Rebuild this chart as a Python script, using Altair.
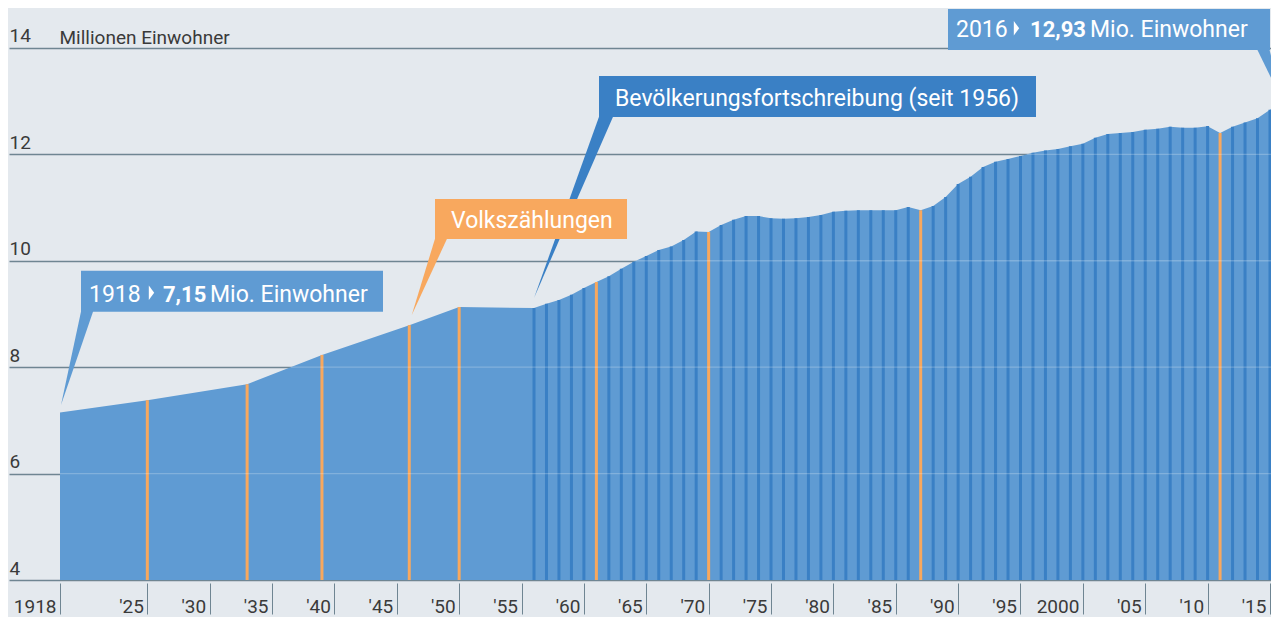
import json
import altair as alt
import pandas as pd

# ---------------- data (Mio. Einwohner) ----------------
early_years = [1918, 1925, 1933, 1939, 1946, 1950]
early_values = [7.15, 7.38, 7.68, 8.23, 8.79, 9.13]

annual_years = [
    1956, 1957, 1958, 1959, 1960, 1961, 1962, 1963, 1964, 1965,
    1966, 1967, 1968, 1969, 1970, 1971, 1972, 1973, 1974, 1975,
    1976, 1977, 1978, 1979, 1980, 1981, 1982, 1983, 1984, 1985,
    1986, 1987, 1988, 1989, 1990, 1991, 1992, 1993, 1994, 1995,
    1996, 1997, 1998, 1999, 2000, 2001, 2002, 2003, 2004, 2005,
    2006, 2007, 2008, 2009, 2010, 2011, 2012, 2013, 2014, 2015,
    2016,
]
annual_values = [
    9.11, 9.19, 9.26, 9.36, 9.49, 9.60, 9.71, 9.85, 9.98, 10.09,
    10.20, 10.27, 10.39, 10.55, 10.54, 10.67, 10.77, 10.84, 10.84, 10.80,
    10.79, 10.80, 10.82, 10.86, 10.92, 10.94, 10.95, 10.95, 10.95, 10.95,
    11.01, 10.95, 11.03, 11.20, 11.44, 11.58, 11.76, 11.86, 11.91, 11.97,
    12.03, 12.07, 12.10, 12.15, 12.20, 12.31, 12.38, 12.40, 12.42, 12.46,
    12.48, 12.52, 12.50, 12.50, 12.53, 12.40, 12.52, 12.60, 12.68, 12.84,
    12.93,
]
census_years = [1925, 1933, 1939, 1946, 1950, 1961, 1970, 1987, 2011]

tick_years = [1918, 1925, 1930, 1935, 1940, 1945, 1950, 1955, 1960, 1965,
              1970, 1975, 1980, 1985, 1990, 1995, 2000, 2005, 2010, 2015]
tick_labels = ["1918", "'25", "'30", "'35", "'40", "'45", "'50", "'55", "'60", "'65",
               "'70", "'75", "'80", "'85", "'90", "'95", "2000", "'05", "'10", "'15"]
y_ticks = [4, 6, 8, 10, 12, 14]

# ---------------- annotation layout (data units) ----------------
box_x = [1919.684, 1948.063, 1961.210, 1989.188]
box_x2 = [1943.894, 1963.455, 1996.243, 2015.002]
box_y = [9.04, 10.41, 12.70, 13.96]
box_y2 = [9.81, 11.16, 13.47, 14.73]
box_kind = ["light", "orange", "dark", "light"]

wedge_id = ["a", "a", "b", "b", "c", "c", "d", "d"]
wedge_v = [7.29, 9.08, 8.98, 10.47, 9.30, 12.76, 13.00, 14.02]
wedge_l = [1918.08, 1919.716, 1946.2, 1948.135, 1956.0, 1961.29, 2016.0, 2013.87]
wedge_r = [1918.08, 1920.702, 1946.2, 1949.137, 1956.0, 1962.43, 2016.0, 2014.90]
wedge_kind = ["light", "light", "orange", "orange", "dark", "dark", "light", "light"]

fmt = lambda v: f"{v:.2f}".replace(".", ",")
txt_normal = [str(early_years[0]), "Mio. Einwohner", "Volkszählungen",
              "Bevölkerungsfortschreibung (seit 1956)", str(annual_years[-1]), "Mio. Einwohner"]
txt_normal_x = [1920.325, 1930.025, 1949.345, 1962.493, 1989.829, 2000.572]
txt_normal_y = [9.226, 9.226, 10.62, 12.91, 14.21, 14.21]
txt_bold = [fmt(early_values[0]), fmt(annual_values[-1])]
txt_bold_x = [1926.257, 1995.762]
txt_bold_y = [9.226, 14.21]
tri_x = [1925.335, 1994.679]
tri_y = [9.40, 14.37]

# ---------------- styling ----------------
BG = "#e4e9ee"
AREA = "#5f9bd3"
DARK = "#3a80c5"
ORANGE = "#f8a85e"
GRID = "#6f8592"
TEXT = "#3a3a3a"
SANS = "Roboto"
kind_colors = {"light": AREA, "orange": ORANGE, "dark": DARK}

PX_PER_YEAR = 12.474
W = 1262
H = 572
x_min = 1918 - 51 / PX_PER_YEAR
x_max = x_min + W / PX_PER_YEAR
y_min, y_max = 4, 14.75

# ---------------- tables ----------------
years_all = early_years + annual_years
vals_all = early_values + annual_values
df_area = pd.DataFrame({"year": years_all, "value": vals_all})
all_vals = dict(zip(years_all, vals_all))
df_dark = pd.DataFrame({"year": [y for y in annual_years if y not in census_years],
                        "value": [all_vals[y] for y in annual_years if y not in census_years]})
df_orange = pd.DataFrame({"year": census_years, "value": [all_vals[y] for y in census_years]})


def first_crossing(level):
    for (y0, v0), (y1, v1) in zip(zip(years_all, vals_all), zip(years_all[1:], vals_all[1:])):
        if v0 >= level:
            return y0
        if v1 >= level:
            return y0 + (y1 - y0) * (level - v0) / (v1 - v0)
    return None


levels = [lv for lv in y_ticks[1:-1]]
df_light = pd.DataFrame({"value": levels,
                         "year": [first_crossing(lv) for lv in levels],
                         "year2": [x_max] * len(levels)})

df_box = pd.DataFrame({"year": box_x, "year2": box_x2, "value": box_y, "value2": box_y2,
                       "c": [kind_colors[k] for k in box_kind]})
df_wedge = pd.DataFrame({"id": wedge_id, "value": wedge_v, "year": wedge_l, "year2": wedge_r,
                         "c": [kind_colors[k] for k in wedge_kind]})
df_tn = pd.DataFrame({"t": txt_normal, "year": txt_normal_x, "value": txt_normal_y})
df_tb = pd.DataFrame({"t": txt_bold, "year": txt_bold_x, "value": txt_bold_y})
df_tri = pd.DataFrame({"year": tri_x, "value": tri_y})

xs = alt.Scale(domain=[x_min, x_max], nice=False, zero=False)
ys = alt.Scale(domain=[y_min, y_max], nice=False, zero=False)

label_expr = "{}[indexof({}, datum.value)]".format(json.dumps(tick_labels), json.dumps(tick_years))

x_axis = alt.Axis(values=tick_years, labelExpr=label_expr, grid=False, domain=False,
                  ticks=True, tickSize=31, offset=3, tickColor=GRID, tickWidth=1,
                  labelAlign="right", labelBaseline="alphabetic", labelOffset=-4, labelPadding=-2,
                  labelFont=SANS, labelFontSize=19, labelColor=TEXT,
                  labelOverlap=False, labelFlush=False, labelBound=False, title=None)
y_axis = alt.Axis(values=y_ticks, grid=True, gridColor=GRID, gridWidth=1.3, domain=False,
                  ticks=False, labelAlign="left", labelBaseline="alphabetic", labelOffset=-6,
                  labelPadding=0, labelFont=SANS, labelFontSize=19, labelColor=TEXT,
                  title="Millionen Einwohner", titleAngle=0, titleX=50, titleY=35,
                  titleAlign="left", titleBaseline="alphabetic", titleFont=SANS,
                  titleFontSize=19, titleFontWeight="normal", titleColor=TEXT)

X = alt.X("year:Q", scale=xs, axis=x_axis)
Y = alt.Y("value:Q", scale=ys, axis=y_axis)

area = alt.Chart(df_area).mark_area(color=AREA, interpolate="linear", clip=True).encode(x=X, y=Y)
dark = alt.Chart(df_dark).mark_rule(color=DARK, strokeWidth=3, clip=True).encode(
    x=X, y=Y, y2=alt.datum(4))
orange = alt.Chart(df_orange).mark_rule(color=ORANGE, strokeWidth=3, clip=True).encode(
    x=X, y=Y, y2=alt.datum(4))
light = alt.Chart(df_light).mark_rule(color="white", opacity=0.22, strokeWidth=1.3, clip=True).encode(
    x=X, x2="year2:Q", y=Y)

wedges = alt.Chart(df_wedge).mark_area(orient="horizontal", clip=True).encode(
    y=Y, x=X, x2="year2:Q", detail="id:N", color=alt.Color("c:N", scale=None))
boxes = alt.Chart(df_box).mark_rect(clip=True).encode(
    x=X, x2="year2:Q", y=Y, y2="value2:Q", color=alt.Color("c:N", scale=None))
t_norm = alt.Chart(df_tn).mark_text(align="left", baseline="alphabetic", font=SANS,
                                    fontSize=23, color="white").encode(x=X, y=Y, text="t:N")
t_bold = alt.Chart(df_tb).mark_text(align="left", baseline="alphabetic", font=SANS,
                                    fontSize=22, fontWeight="bold", color="white").encode(
    x=X, y=Y, text="t:N")
tri = alt.Chart(df_tri).mark_point(shape="M -0.37 -1 L 0.37 0 L -0.37 1 Z", size=210,
                                   filled=True, color="white", opacity=1, strokeWidth=0).encode(x=X, y=Y)

chart = alt.layer(area, dark, orange, light, wedges, boxes, t_norm, t_bold, tri).properties(
    width=W, height=H,
    padding={"left": 1, "top": 0, "right": 0, "bottom": 37},
    autosize=alt.AutoSizeParams(type="none"),
).configure(background=BG).configure_view(stroke=None)

chart.save("out.html", embed_options={"renderer": "svg", "actions": False})
